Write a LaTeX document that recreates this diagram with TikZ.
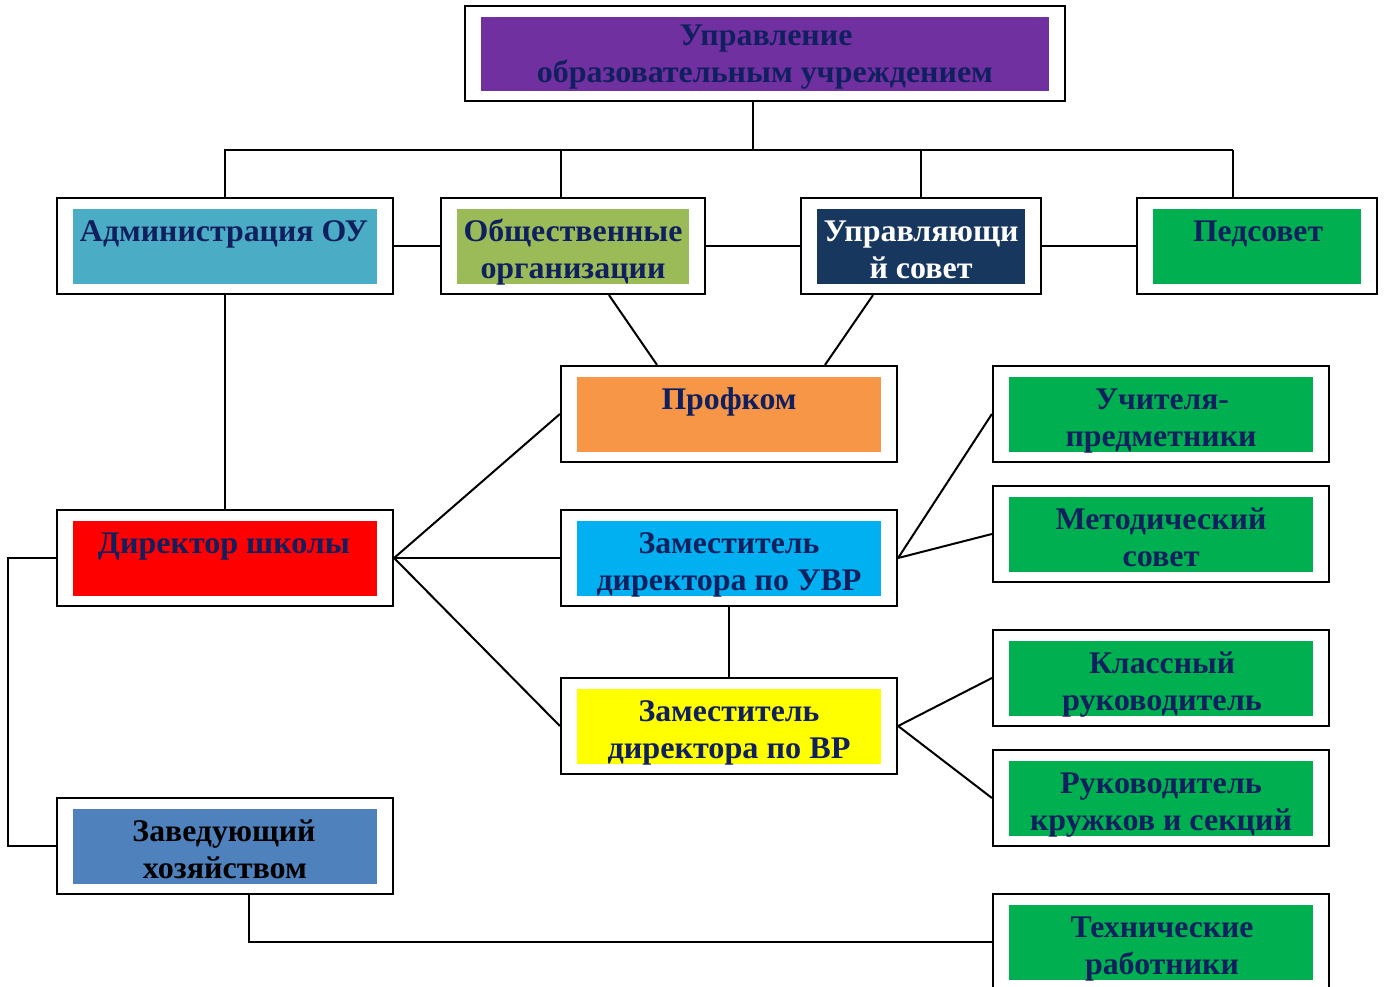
\documentclass[tikz,border=0pt]{standalone}
\usepackage{fontspec}
\setmainfont{Liberation Serif}
\usepackage{graphicx}
\usetikzlibrary{calc}
\definecolor{cpurple}{HTML}{7030A0}
\definecolor{cadmin}{HTML}{4BACC6}
\definecolor{cobsh}{HTML}{9BBB59}
\definecolor{cupr}{HTML}{17375E}
\definecolor{cgreen}{HTML}{00B050}
\definecolor{corange}{HTML}{F79646}
\definecolor{cred}{HTML}{FF0000}
\definecolor{ccyan}{HTML}{00B0F0}
\definecolor{cyellow}{HTML}{FFFF00}
\definecolor{csteel}{HTML}{4F81BD}
\definecolor{cnavy}{HTML}{10205E}
\newcommand\fitw[2]{\resizebox{#1}{\height}{#2}}
\tikzset{
  orgbox/.style={draw=black, line width=2.2pt, fill=white, rectangle, inner sep=0pt,
    minimum width=336pt, minimum height=96pt,
    path picture={\fill[#1] ([shift={(16pt,-11pt)}]path picture bounding box.north west) rectangle ([shift={(-16pt,10pt)}]path picture bounding box.south east);}},
  txt/.style={inner sep=0pt, anchor=base, text=cnavy, font=\fontsize{31.5}{36}\selectfont\bfseries},
  conn/.style={line width=2pt, draw=black}
}
\begin{document}
\begin{tikzpicture}[x=1pt,y=-1pt]
\useasboundingbox (0,0) rectangle (1386,987);
\clip (0,0) rectangle (1386,987);
% boxes
\node[orgbox=cpurple, minimum width=600pt, minimum height=95pt] (top) at (765,53.5) {};
\node[orgbox=cadmin] (admin) at (225,246) {};
\node[orgbox=cobsh, minimum width=264pt] (obsh) at (573,246) {};
\node[orgbox=cupr, minimum width=240pt] (upr) at (921,246) {};
\node[orgbox=cgreen, minimum width=240pt] (ped) at (1257,246) {};
\node[orgbox=corange] (prof) at (729,414) {};
\node[orgbox=cgreen] (uch) at (1161,414) {};
\node[orgbox=cred] (dir) at (225,558) {};
\node[orgbox=ccyan] (uvr) at (729,558) {};
\node[orgbox=cgreen] (met) at (1161,534) {};
\node[orgbox=cgreen] (kl) at (1161,678) {};
\node[orgbox=cyellow] (vr) at (729,726) {};
\node[orgbox=cgreen] (ruk) at (1161,798) {};
\node[orgbox=csteel] (zav) at (225,846) {};
\node[orgbox=cgreen] (tech) at (1161,942) {};
% texts
\node[txt] (t1a) at (766,46) {\fitw{173pt}{Управление}};
\node[txt] (t1b) at (765,83) {\fitw{456pt}{образовательным учреждением}};
\node[txt] (tadm) at (224,241) {\fitw{288pt}{Администрация ОУ}};
\node[txt] (tobsa) at (573,241) {\fitw{219pt}{Общественные}};
\node[txt] (tobsb) at (573,278) {\fitw{185pt}{организации}};
\node[txt, text=white] (tupra) at (921,241) {\fitw{195pt}{Управляющи}};
\node[txt, text=white] (tuprb) at (921,278) {\fitw{103pt}{й совет}};
\node[txt] (tped) at (1258,241) {\fitw{130pt}{Педсовет}};
\node[txt] (tprof) at (729,409) {\fitw{135pt}{Профком}};
\node[txt] (tucha) at (1162,409) {\fitw{134pt}{Учителя-}};
\node[txt] (tuchb) at (1161,446) {\fitw{191pt}{предметники}};
\node[txt] (tdir) at (224,553) {\fitw{252pt}{Директор школы}};
\node[txt] (tuvra) at (729,553) {\fitw{181pt}{Заместитель}};
\node[txt] (tuvrb) at (729,590) {\fitw{265pt}{директора по УВР}};
\node[txt] (tmeta) at (1161,529) {\fitw{211pt}{Методический}};
\node[txt] (tmetb) at (1161,566) {\fitw{77pt}{совет}};
\node[txt] (tkla) at (1162,673) {\fitw{146pt}{Классный}};
\node[txt] (tklb) at (1162,710) {\fitw{200pt}{руководитель}};
\node[txt] (tvra) at (729,721) {\fitw{181pt}{Заместитель}};
\node[txt] (tvrb) at (729,758) {\fitw{243pt}{директора по ВР}};
\node[txt] (truka) at (1161,793) {\fitw{202pt}{Руководитель}};
\node[txt] (trukb) at (1161,830) {\fitw{262pt}{кружков и секций}};
\node[txt, text=black] (tzava) at (224,841) {\fitw{183pt}{Заведующий}};
\node[txt, text=black] (tzavb) at (225,878) {\fitw{164pt}{хозяйством}};
\node[txt] (ttecha) at (1162,937) {\fitw{183pt}{Технические}};
\node[txt] (ttechb) at (1162,974) {\fitw{154pt}{работники}};
% connectors
\coordinate (busL) at (224,150);
\coordinate (busR) at (1233,150);
\draw[conn] (busL) -- (busR);
\draw[conn] ([xshift=-12pt]top.south) -- ([xshift=-12pt]top.south |- busL);
\draw[conn] (admin.north |- busL) -- (admin.north);
\draw[conn] ([xshift=-12pt]obsh.north |- busL) -- ([xshift=-12pt]obsh.north);
\draw[conn] (upr.north |- busL) -- (upr.north);
\draw[conn] ([xshift=-24pt]ped.north |- busL) -- ([xshift=-24pt]ped.north);
\draw[conn] (admin.east) -- (obsh.west);
\draw[conn] (obsh.east) -- (upr.west);
\draw[conn] (upr.east) -- (ped.west);
\draw[conn] ([xshift=36pt]obsh.south) -- ([xshift=-72pt]prof.north);
\draw[conn] ([xshift=-48pt]upr.south) -- ([xshift=96pt]prof.north);
\draw[conn] (admin.south) -- (dir.north);
\draw[conn] (dir.east) -- (prof.west);
\draw[conn] (dir.east) -- (uvr.west);
\draw[conn] (dir.east) -- (vr.west);
\draw[conn] (uvr.south) -- (vr.north);
\draw[conn] (uvr.east) -- (uch.west);
\draw[conn] (uvr.east) -- (met.west);
\draw[conn] (vr.east) -- (kl.west);
\draw[conn] (vr.east) -- (ruk.west);
\draw[conn] (dir.west) -- ++(-48,0) |- (zav.west);
\draw[conn] ([xshift=24pt]zav.south) |- (tech.west);
\end{tikzpicture}
\end{document}
